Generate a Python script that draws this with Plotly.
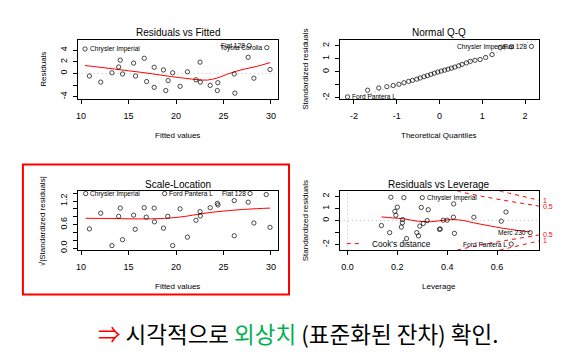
import plotly.graph_objects as go

W, H = 574, 353
FONT = "Liberation Sans, Arial, sans-serif"

# ---------------- Data ----------------
# Panel 1: Residuals vs Fitted
rf_fitted = [10.42, 10.88, 12.07, 13.25, 14.13, 13.96, 14.37, 15.53, 15.74, 16.65, 16.9, 17.7,
             17.7, 18.68, 18.92, 19.17, 19.65, 20.43, 21.2, 22.1, 22.53, 22.56, 23.6, 24.4,
             24.35, 26.13, 26.2, 27.6, 28.2, 29.9, 27.7, 29.56]
rf_resid = [4.2, -0.45, -1.5, 0.1, 2.27, 1.1, -0.1, 1.77, -0.45, 2.6, -1.4, 1.05,
            -2.4, 0.6, -2.95, -1.23, 0.1, -2.23, 0.27, -1.1, 1.93, -1.5, -2.07, -1.6,
            -2.95, -0.1, -3.4, 2.77, -0.83, 0.67, 4.77, 4.43]
rf_smooth_x = [10.42, 12, 13.5, 15, 16.5, 18, 19.5, 21, 22.3, 23.3, 24.4, 25.3, 26.2, 27.3, 28.5, 29.9]
rf_smooth_y = [1.35, 1.05, 0.75, 0.45, 0.15, -0.2, -0.55, -0.85, -1.08, -1.15, -0.75, -0.2, 0.3, 0.78, 1.2, 1.85]
rf_label_names = ["Chrysler Imperial", "Fiat 128", "Toyota Corolla"]
rf_label_idx = [0, 30, 31]
rf_label_side = ["right", "left", "left"]

# Panel 2: Normal Q-Q
qq_theor = [-2.15, -1.68, -1.42, -1.23, -1.08, -0.95, -0.83, -0.72, -0.63, -0.53, -0.45, -0.36,
            -0.28, -0.20, -0.12, -0.04, 0.04, 0.12, 0.20, 0.28, 0.36, 0.45, 0.53, 0.63,
            0.72, 0.83, 0.95, 1.08, 1.23, 1.42, 1.68, 2.15]
qq_std = [-1.94, -1.42, -1.25, -1.15, -1.06, -0.97, -0.85, -0.74, -0.66, -0.57, -0.48, -0.38,
          -0.30, -0.20, -0.11, -0.03, 0.05, 0.12, 0.20, 0.28, 0.36, 0.46, 0.57, 0.68,
          0.80, 0.88, 0.94, 1.10, 1.32, 1.86, 1.92, 1.95]
qq_line_x = [-2.4, 2.4]
qq_line_y = [-2.52, 2.62]
qq_label_names = ["Ford Pantera L", "Chrysler Imperial", "Fiat 128"]
qq_label_idx = [0, 30, 31]
qq_label_side = ["right", "left", "left"]

# Panel 3: Scale-Location
sl_fitted = [10.49, 10.88, 12.07, 13.25, 13.96, 14.13, 14.37, 15.53, 15.7, 16.65, 16.86, 17.7,
             17.73, 18.68, 18.8, 19.13, 19.65, 20.43, 21.2, 22.1, 22.53, 22.56, 23.6, 24.35,
             24.42, 26.13, 26.13, 27.6, 27.8, 28.2, 29.5, 29.9]
sl_sqrt = [1.39, 0.49, 0.89, 0.065, 0.81, 1.02, 0.215, 0.84, 0.48, 1.03, 0.79, 1.02,
           0.67, 0.51, 1.39, 0.81, 0.065, 1.0, 0.28, 0.71, 0.93, 0.82, 1.03, 1.14,
           1.1, 1.21, 0.315, 1.17, 1.39, 0.64, 1.365, 0.53]
sl_smooth_x = [10.49, 13, 15.5, 18, 19.5, 21, 22.5, 24, 25.5, 27, 28.5, 29.9]
sl_smooth_y = [0.76, 0.755, 0.745, 0.75, 0.77, 0.81, 0.87, 0.92, 0.955, 0.985, 1.005, 1.02]
sl_label_names = ["Chrysler Imperial", "Ford Pantera L", "Fiat 128"]
sl_label_idx = [0, 14, 28]
sl_label_side = ["right", "right", "left"]

# Panel 4: Residuals vs Leverage
lv_lev = [0.174, 0.226, 0.30, 0.426, 0.296, 0.324, 0.2, 0.19, 0.194, 0.221, 0.22, 0.216,
          0.136, 0.169, 0.237, 0.278, 0.285, 0.29, 0.304, 0.32, 0.369, 0.372, 0.384, 0.4,
          0.425, 0.429, 0.507, 0.617, 0.636, 0.733, 0.657]
lv_std = [1.93, 1.9, 1.9, 1.38, 1.09, 0.9, 1.11, 0.76, 0.44, 0.08, -0.19, -0.54,
          -0.41, -1.0, -1.49, -1.0, -1.27, -0.46, -0.24, 0.0, -0.73, -0.70, 0.03, 0.03,
          0.28, -1.06, 0.28, -0.05, 0.71, -1.0, -1.95]
lv_smooth_x = [0.136, 0.18, 0.227, 0.28, 0.333, 0.387, 0.427, 0.467, 0.507, 0.56, 0.627, 0.68, 0.733]
lv_smooth_y = [0.3, 0.22, 0.14, -0.05, -0.1, 0.03, 0.08, 0.0, -0.19, -0.4, -0.65, -0.81, -0.94]
cook05_h = [0.44, 0.47, 0.5, 0.55, 0.6, 0.65, 0.7, 0.75, 0.77]
cook05_sr = [2.45, 2.3, 2.18, 1.97, 1.78, 1.60, 1.43, 1.26, 1.19]
cook1_h = [0.61, 0.65, 0.7, 0.75, 0.77]
cook1_sr = [2.45, 2.26, 2.02, 1.78, 1.68]
lv_label_names = ["Chrysler Imperial", "Merc 230", "Ford Pantera L"]
lv_label_idx = [2, 29, 30]
lv_label_side = ["right", "left", "left"]

# ---------------- Layout helpers ----------------
def fx(p):
    return p / W

def fy(p):
    return 1 - p / H

COLS = {"L": (76, 276.5), "R": (339, 539)}
ROWS = {"T": (40, 100), "B": (193, 252.5)}

panels = [
    dict(k="", col="L", row="T", xr=[9.65, 30.69], yr=[-4.43, 5.8],
         xt=[10, 15, 20, 25, 30], xtt=["10", "15", "20", "25", "30"],
         yt=[-4, -2, 0, 2, 4], ytt=["-4", "", "0", "2", "4"],
         title="Residuals vs Fitted", xl="Fitted values", yl="Residuals"),
    dict(k="2", col="R", row="T", xr=[-2.33, 2.33], yr=[-2.11, 2.47],
         xt=[-2, -1, 0, 1, 2], xtt=["-2", "-1", "0", "1", "2"],
         yt=[-2, -1, 0, 1, 2], ytt=["-2", "", "0", "1", "2"],
         title="Normal Q-Q", xl="Theoretical Quantiles", yl="Standardized residuals"),
    dict(k="3", col="L", row="B", xr=[9.65, 30.69], yr=[-0.056, 1.446],
         xt=[10, 15, 20, 25, 30], xtt=["10", "15", "20", "25", "30"],
         yt=[0, 0.2, 0.4, 0.6, 0.8, 1.0, 1.2, 1.4], ytt=["0.0", "", "", "0.6", "", "", "1.2", ""],
         title="Scale-Location", xl="Fitted values", yl="√|Standardized residuals|"),
    dict(k="4", col="R", row="B", xr=[-0.031, 0.769], yr=[-2.47, 2.42],
         xt=[0, 0.2, 0.4, 0.6], xtt=["0.0", "0.2", "0.4", "0.6"],
         yt=[-2, -1, 0, 1, 2], ytt=["-2", "", "0", "1", "2"],
         title="Residuals vs Leverage", xl="Leverage", yl="Standardized residuals"),
]

fig = go.Figure()
layout = dict(width=W, height=H, margin=dict(l=0, r=0, t=0, b=0),
              paper_bgcolor="white", plot_bgcolor="white", showlegend=False,
              font=dict(family=FONT, color="black"))
annotations = []
shapes = []

axis_common = dict(showline=True, mirror=True, linecolor="black", linewidth=1,
                   ticks="outside", ticklen=4, tickwidth=1, tickcolor="black",
                   showgrid=False, zeroline=False, fixedrange=True,
                   tickfont=dict(size=9, color="black", family=FONT))

for p in panels:
    k = p["k"]
    x0, x1 = COLS[p["col"]]
    y0, y1 = ROWS[p["row"]]
    xa = dict(axis_common, domain=[fx(x0), fx(x1)], range=p["xr"], anchor="y" + k,
              tickmode="array", tickvals=p["xt"], ticktext=p["xtt"], ticklabelstandoff=4)
    ya = dict(axis_common, domain=[fy(y1), fy(y0)], range=p["yr"], anchor="x" + k,
              tickmode="array", tickvals=p["yt"], ticktext=p["ytt"], tickangle=-90,
              ticklabelstandoff=2)
    layout["xaxis" + k] = xa
    layout["yaxis" + k] = ya
    cx = (x0 + x1) / 2
    cy = (y0 + y1) / 2
    annotations.append(dict(text=p["title"], xref="paper", yref="paper", x=fx(cx), y=fy(y0 - 7),
                            xanchor="center", yanchor="middle", showarrow=False,
                            font=dict(size=10, family=FONT, color="black")))
    annotations.append(dict(text=p["xl"], xref="paper", yref="paper", x=fx(cx), y=fy(y1 + 36.5),
                            xanchor="center", yanchor="middle", showarrow=False,
                            font=dict(size=8, family=FONT, color="black")))
    annotations.append(dict(text=p["yl"], xref="paper", yref="paper", x=fx(x0 - 34.5), y=fy(cy),
                            xanchor="center", yanchor="middle", showarrow=False, textangle=-90,
                            font=dict(size=8, family=FONT, color="black")))


def pts(x, y, k):
    fig.add_trace(go.Scatter(x=x, y=y, mode="markers", xaxis="x" + k, yaxis="y" + k,
                             marker=dict(symbol="circle-open", size=4.3, color="black",
                                         line=dict(width=0.7, color="black")),
                             cliponaxis=False, hoverinfo="skip"))


def line(x, y, k, color="red", dash="solid", width=1, shape="spline"):
    fig.add_trace(go.Scatter(x=x, y=y, mode="lines", xaxis="x" + k, yaxis="y" + k,
                             line=dict(color=color, dash=dash, width=width, shape=shape),
                             hoverinfo="skip"))


def labels(names, idx, sides, xs, ys, k):
    for n, i, s in zip(names, idx, sides):
        annotations.append(dict(text=n, x=xs[i], y=ys[i], xref="x" + k, yref="y" + k,
                                xanchor="left" if s == "right" else "right",
                                xshift=2.5 if s == "right" else -2.5,
                                yanchor="middle", showarrow=False,
                                font=dict(size=6.6, family=FONT, color="black")))


def hzero(k):
    shapes.append(dict(type="line", xref="x" + k + " domain", x0=0, x1=1, yref="y" + k,
                       y0=0, y1=0, layer="below", line=dict(color="#BEBEBE", width=1, dash="1px,3px")))


# Panel 1
hzero("")
line(rf_smooth_x, rf_smooth_y, "")
pts(rf_fitted, rf_resid, "")
labels(rf_label_names, rf_label_idx, rf_label_side, rf_fitted, rf_resid, "")

# Panel 2
line(qq_line_x, qq_line_y, "2", color="#A0A0A0", dash="1px,3px", shape="linear")
pts(qq_theor, qq_std, "2")
labels(qq_label_names, qq_label_idx, qq_label_side, qq_theor, qq_std, "2")

# Panel 3
line(sl_smooth_x, sl_smooth_y, "3")
pts(sl_fitted, sl_sqrt, "3")
labels(sl_label_names, sl_label_idx, sl_label_side, sl_fitted, sl_sqrt, "3")

# Panel 4
hzero("4")
shapes.append(dict(type="line", yref="y4 domain", y0=0, y1=1, xref="x4", x0=0, x1=0,
                   layer="below", line=dict(color="#BEBEBE", width=1, dash="1px,3px")))
line(lv_smooth_x, lv_smooth_y, "4")
for hh, ss in ((cook05_h, cook05_sr), (cook1_h, cook1_sr)):
    line(hh, ss, "4", dash="4px,4px")
    line(hh, [-v for v in ss], "4", dash="4px,4px")
pts(lv_lev, lv_std, "4")
labels(lv_label_names, lv_label_idx, lv_label_side, lv_lev, lv_std, "4")
for txt, hh, ss, sign in (("1", cook1_h, cook1_sr, 1), ("0.5", cook05_h, cook05_sr, 1),
                          ("0.5", cook05_h, cook05_sr, -1), ("1", cook1_h, cook1_sr, -1)):
    annotations.append(dict(text=txt, x=layout["xaxis4"]["range"][1], y=sign * ss[-1],
                            xref="x4", yref="y4", xanchor="left", xshift=2, yanchor="middle",
                            showarrow=False, font=dict(size=7, family=FONT, color="red")))

# Cook's distance legend
shapes.append(dict(type="line", xref="paper", yref="paper", x0=fx(346), x1=fx(360),
                   y0=fy(245.7), y1=fy(245.7), line=dict(color="red", width=1, dash="4px,4px")))
annotations.append(dict(text="Cook's distance", xref="paper", yref="paper", x=fx(369), y=fy(245.7),
                        xanchor="left", yanchor="middle", showarrow=False,
                        font=dict(size=8.3, family=FONT, color="black")))

# Red highlight box around Scale-Location
shapes.append(dict(type="rect", xref="paper", yref="paper", x0=fx(21), x1=fx(288),
                   y0=fy(297), y1=fy(166), line=dict(color="red", width=2)))

# Korean caption
annotations.append(dict(
    text='<span style="color:#FF0000">⇒</span> 시각적으로 <span style="color:#00B050">외상치</span> (표준화된 잔차) 확인.',
    xref="paper", yref="paper", x=fx(296.7), y=fy(336), xanchor="center", yanchor="middle",
    showarrow=False, font=dict(size=22.5, family="Noto Sans CJK KR", color="black")))

layout["annotations"] = annotations
layout["shapes"] = shapes
fig.update_layout(**layout)
fig.write_html("out.html")
